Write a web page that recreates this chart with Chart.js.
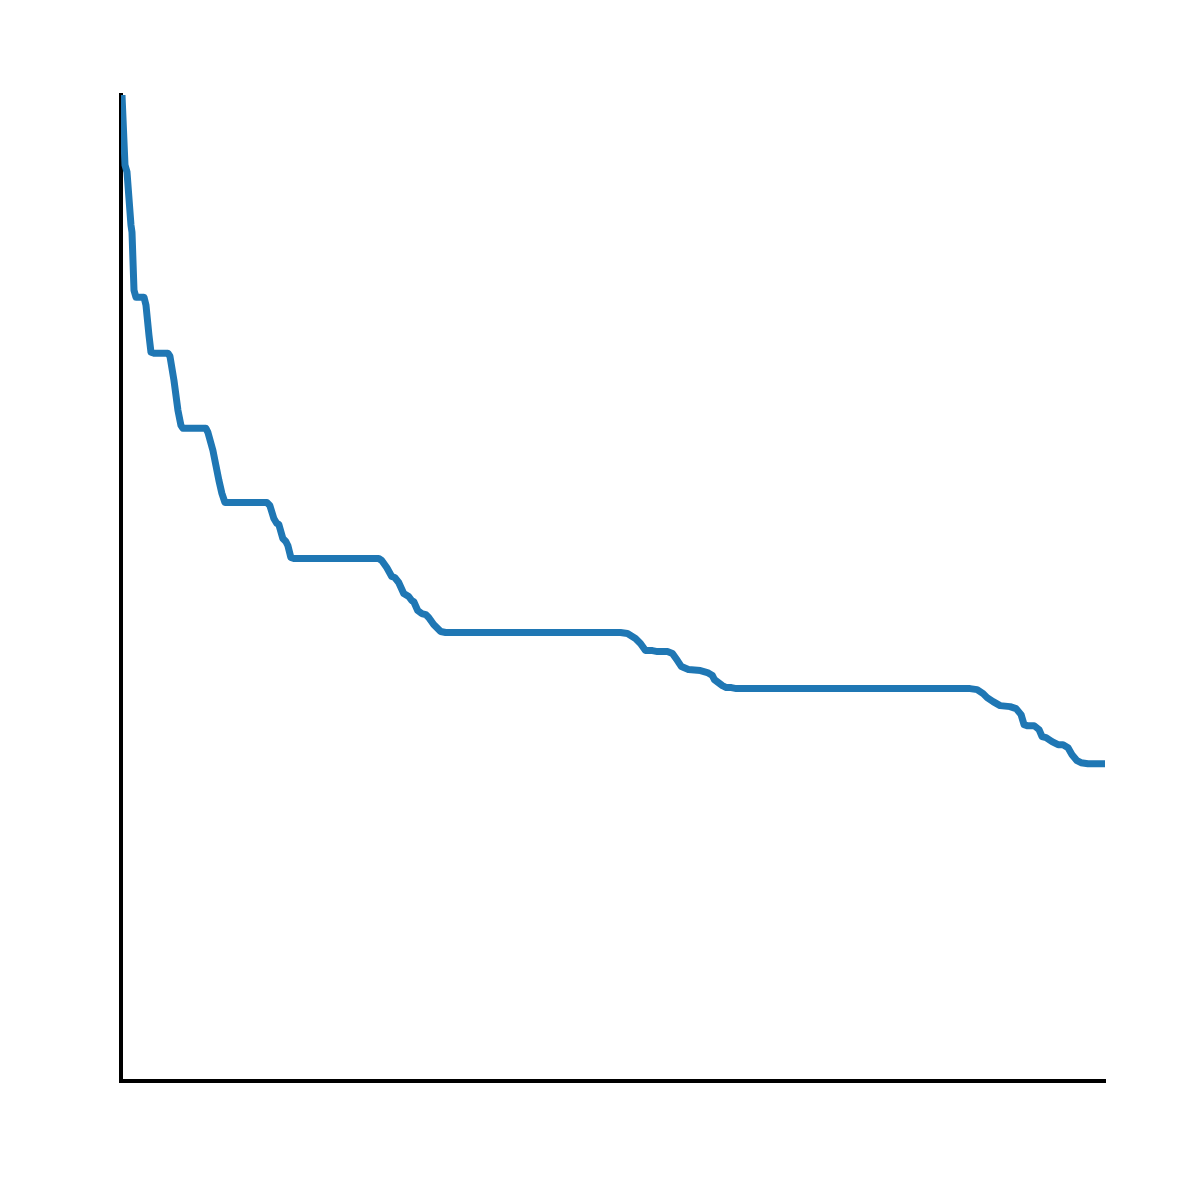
<!DOCTYPE html>
<html>
<head>
  <title>Step decay</title>
  <script src="https://cdn.jsdelivr.net/npm/chart.js@4"></script>
  <style>
    body { margin: 0; background: #fff; }
    canvas { display: block; }
  </style>
</head>
<body>
  <canvas id="decay" width="1200" height="1200"></canvas>

  <script>
    // x and y (arbitrary units, axis span 0..985)
    const xs = [1, 4, 6, 10, 11, 13, 15, 23, 25, 28, 30, 33, 47, 49, 53, 57, 60, 62, 85, 87,
      92, 95, 98, 101, 104, 146, 149, 153, 156, 158, 162, 165, 167, 170, 173, 258, 261, 266, 271, 274,
      278, 283, 288, 291, 293, 297, 301, 305, 308, 313, 317, 320, 325, 500, 507, 515, 520, 525, 532, 537,
      547, 552, 557, 561, 568, 580, 587, 592, 594, 598, 602, 606, 611, 616, 850, 857, 863, 867, 873, 880,
      890, 896, 901, 904, 907, 914, 919, 922, 926, 932, 938, 943, 948, 952, 957, 961, 968, 983]
    const ys = [985, 915, 908, 855, 848, 790, 783, 783, 775, 745, 728, 727, 727, 724, 700, 670, 655, 652, 652, 648,
      630, 615, 600, 587, 578, 578, 575, 562, 557, 556, 542, 539, 535, 523, 522, 522, 520, 513, 504, 503,
      498, 487, 484, 480, 479, 470, 467, 466, 463, 456, 452, 449, 448, 448, 447, 442, 437, 430, 430, 429,
      429, 427, 420, 414, 411, 410, 408, 405, 401, 398, 395, 393, 393, 392, 392, 391, 387, 383, 379, 375,
      374, 372, 366, 356, 355, 355, 351, 344, 343, 339, 336, 336, 333, 326, 320, 318, 317, 317]

    const points = xs.map((x, i) => ({ x: x, y: ys[i] }))

    const hiddenAxis = {
      type: 'linear',
      min: 0,
      max: 985,
      grid: { display: false },
      ticks: { display: false },
      border: { display: true, color: '#000', width: 4 }
    }

    new Chart(document.getElementById('decay').getContext('2d'), {
      type: 'line',
      data: {
        datasets: [{
          data: points,
          borderColor: '#1f77b4',
          borderWidth: 7,
          borderJoinStyle: 'round',
          borderCapStyle: 'square',
          pointRadius: 0,
          tension: 0,
          fill: false
        }]
      },
      options: {
        responsive: false,
        animation: false,
        devicePixelRatio: 1,
        layout: { padding: { left: 113, top: 95, right: 95, bottom: 111 } },
        plugins: { legend: { display: false }, tooltip: { enabled: false } },
        scales: { x: hiddenAxis, y: hiddenAxis }
      }
    });
  </script>
</body>
</html>
